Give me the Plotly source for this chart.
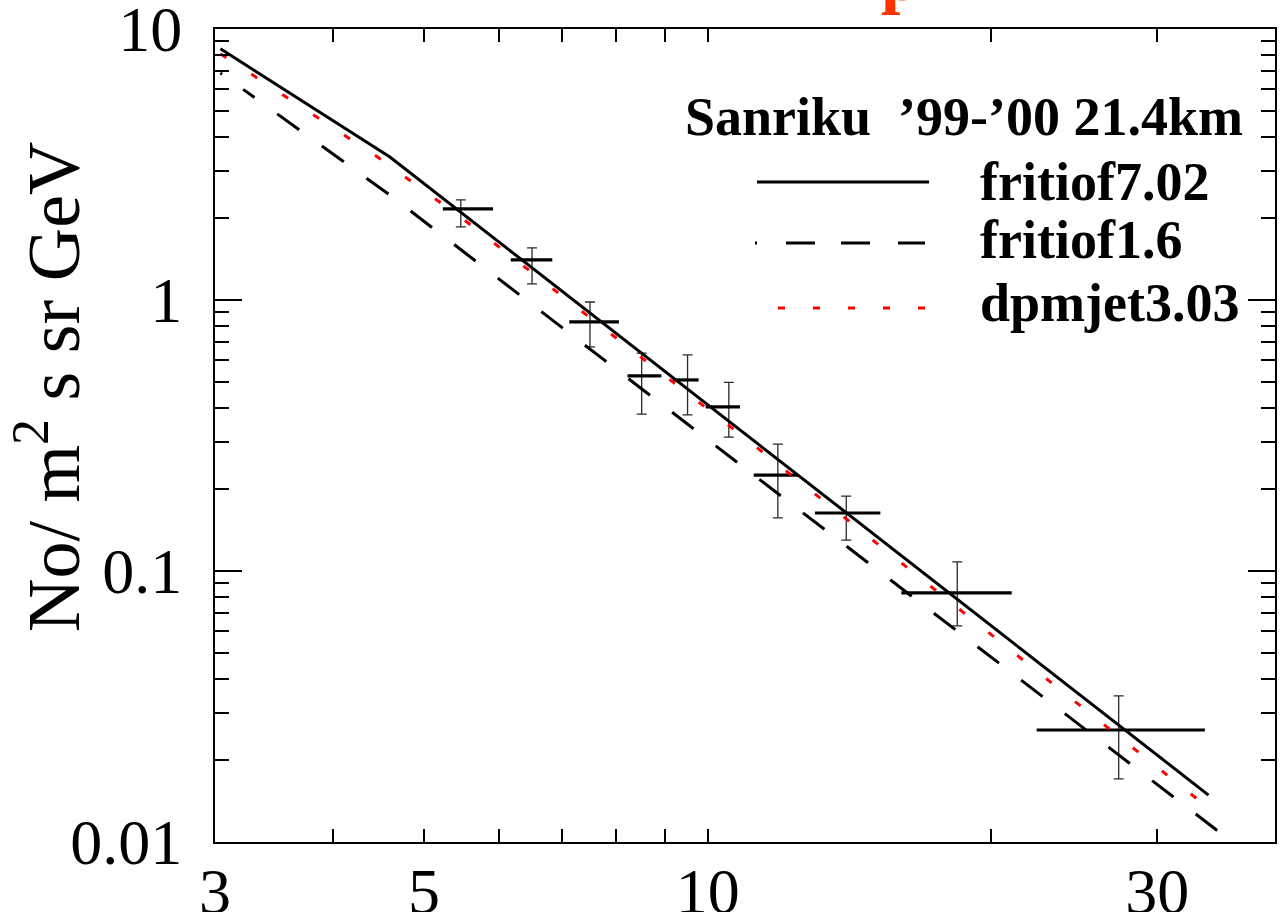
import numpy as np
import plotly.graph_objects as go

# ---------------- data ----------------
# measured points: bin centre, bin edges, flux and error-bar ends
pt_x = [5.47, 6.51, 7.50, 8.51, 9.52, 10.53, 11.87, 14.03, 18.4, 27.3]
pt_xlo = [5.235, 6.18, 7.13, 8.22, 9.18, 9.95, 11.19, 13.0, 16.05, 22.34]
pt_xhi = [5.917, 6.84, 8.05, 8.93, 9.78, 10.82, 12.47, 15.25, 21.02, 33.7]
pt_y = [2.17, 1.406, 0.83, 0.525, 0.507, 0.403, 0.226, 0.1637, 0.083, 0.0259]
pt_yhi = [2.34, 1.556, 0.983, 0.637, 0.627, 0.497, 0.294, 0.189, 0.108, 0.0346]
pt_ylo = [1.86, 1.146, 0.671, 0.379, 0.377, 0.312, 0.157, 0.130, 0.0627, 0.0171]

# model curves
fritiof702_x = [3.04, 4.6, 34.0]
fritiof702_y = [8.45, 3.37, 0.0149]
fritiof16_x = [3.04, 4.585, 10.84, 36.3]
fritiof16_y = [6.88, 2.46, 0.246, 0.0098]
dpmjet_x = [3.04, 4.463, 5.50, 10.92, 33.5]
dpmjet_y = [8.1, 3.37, 1.99, 0.312, 0.0139]

x_tickvals = [3, 5, 10, 30]
x_ticktext = ["3", "5", "10", "30"]
x_minor = [4, 6, 7, 8, 9, 20, 40]
y_tickvals = [0.01, 0.1, 1, 10]
y_ticktext = ["0.01", "0.1", "1", "10"]
y_minor = [k * 10.0 ** d for d in (-2, -1, 0) for k in range(2, 10)]

legend_title = "Sanriku  \u201999-\u201900 21.4km"
legend_names = ["fritiof7.02", "fritiof1.6", "dpmjet3.03"]
ytitle = "No/ m<sup>2</sup> s sr GeV"

# ---------------- layout geometry ----------------
W, H = 1284, 912
L, R, T, B = 215, 1275, 29, 842


def px(xp):
    return (xp - L) / (R - L)


def py(yp):
    return (B - yp) / (B - T)


SERIF = "Liberation Serif, Times New Roman, serif"

fig = go.Figure()

pt_x_a = np.array(pt_x)
fig.add_trace(go.Scatter(
    x=pt_x, y=pt_y, mode="markers",
    marker=dict(size=1, color="rgba(0,0,0,0)"),
    error_x=dict(type="data", symmetric=False,
                 array=list(np.array(pt_xhi) - pt_x_a),
                 arrayminus=list(pt_x_a - np.array(pt_xlo)),
                 width=0, thickness=3.2, color="black"),
    error_y=dict(type="data", symmetric=False,
                 array=list(np.array(pt_yhi) - np.array(pt_y)),
                 arrayminus=list(np.array(pt_y) - np.array(pt_ylo)),
                 width=5, thickness=1.3, color="#2a2a2a"),
    showlegend=False, hoverinfo="skip"))

dash16 = "2px,26px,14px,28px," + ",".join(["27px,28px"] * 26)

fig.add_trace(go.Scatter(x=fritiof702_x, y=fritiof702_y, mode="lines",
                         line=dict(color="black", width=3), showlegend=False))
fig.add_trace(go.Scatter(x=fritiof16_x, y=fritiof16_y, mode="lines",
                         line=dict(color="black", width=3, dash=dash16), showlegend=False))
fig.add_trace(go.Scatter(x=dpmjet_x, y=dpmjet_y, mode="lines",
                         line=dict(color="#ff0000", width=3, dash="7px,30px"), showlegend=False))

shapes = []
# long major ticks at x=10 (bottom and top)
shapes.append(dict(type="line", xref="x", yref="paper", x0=1, x1=1,
                   ysizemode="pixel", yanchor=0, y0=0, y1=28,
                   line=dict(color="black", width=1.5)))
shapes.append(dict(type="line", xref="x", yref="paper", x0=1, x1=1,
                   ysizemode="pixel", yanchor=1, y0=0, y1=-28,
                   line=dict(color="black", width=1.5)))

# legend samples
shapes.append(dict(type="line", xref="paper", yref="paper",
                   x0=px(757), x1=px(929), y0=py(182), y1=py(182),
                   line=dict(color="black", width=3)))
shapes.append(dict(type="line", xref="paper", yref="paper",
                   x0=px(755), x1=px(926), y0=py(243), y1=py(243),
                   line=dict(color="black", width=3,
                             dash="2px,29px,29px,26px,29px,28px,27px,40px")))
shapes.append(dict(type="line", xref="paper", yref="paper",
                   x0=px(778), x1=px(927), y0=py(308), y1=py(308),
                   line=dict(color="#ff0000", width=3, dash="7px,28px")))

annotations = []
annotations.append(dict(text="<b>" + legend_title + "</b>", xref="paper", yref="paper",
                        x=px(683), y=py(117), xanchor="left", yanchor="middle",
                        showarrow=False, font=dict(family=SERIF, size=54, color="black")))
for name, yp in zip(legend_names, [182, 240, 303]):
    annotations.append(dict(text="<b>" + name + "</b>", xref="paper", yref="paper",
                            x=px(978), y=py(yp), xanchor="left", yanchor="middle",
                            showarrow=False, font=dict(family=SERIF, size=54, color="black")))
annotations.append(dict(text=ytitle, xref="paper", yref="paper",
                        x=px(48), y=py(387), xanchor="center", yanchor="middle",
                        textangle=-90, showarrow=False,
                        font=dict(family=SERIF, size=74, color="black")))
annotations.append(dict(text="<b>p</b>", xref="paper", yref="paper",
                        x=px(900), y=py(17), xanchor="center", yanchor="bottom",
                        showarrow=False, font=dict(family=SERIF, size=70, color="#ff3300")))

fig.update_layout(
    width=W, height=H,
    margin=dict(l=L, r=W - R, t=T, b=H - B, autoexpand=False),
    paper_bgcolor="white", plot_bgcolor="white",
    shapes=shapes, annotations=annotations,
    font=dict(family=SERIF, color="black"),
    showlegend=False,
)

fig.update_xaxes(
    type="log", range=[np.log10(3), np.log10(40)], automargin=False,
    tickmode="array", tickvals=x_tickvals, ticktext=x_ticktext,
    ticks="inside", ticklen=13, tickwidth=1.5, tickcolor="black",
    showline=True, linecolor="black", linewidth=2, mirror="ticks",
    showgrid=False, zeroline=False,
    tickfont=dict(family=SERIF, size=64, color="black"),
    ticklabelstandoff=-8, ticklabeloverflow="allow",
    minor=dict(tickmode="array", tickvals=x_minor, ticks="inside",
               ticklen=13, tickwidth=1.5, tickcolor="black", showgrid=False),
)
fig.update_yaxes(
    type="log", range=[-2, 1], automargin=False,
    tickmode="array", tickvals=y_tickvals, ticktext=y_ticktext,
    ticks="inside", ticklen=27, tickwidth=1.5, tickcolor="black",
    showline=True, linecolor="black", linewidth=2, mirror="ticks",
    showgrid=False, zeroline=False,
    tickfont=dict(family=SERIF, size=64, color="black"),
    ticklabelstandoff=18, ticklabeloverflow="allow",
    minor=dict(tickmode="array", tickvals=y_minor, ticks="inside",
               ticklen=14, tickwidth=1.5, tickcolor="black", showgrid=False),
)

fig.write_html("out.html")
